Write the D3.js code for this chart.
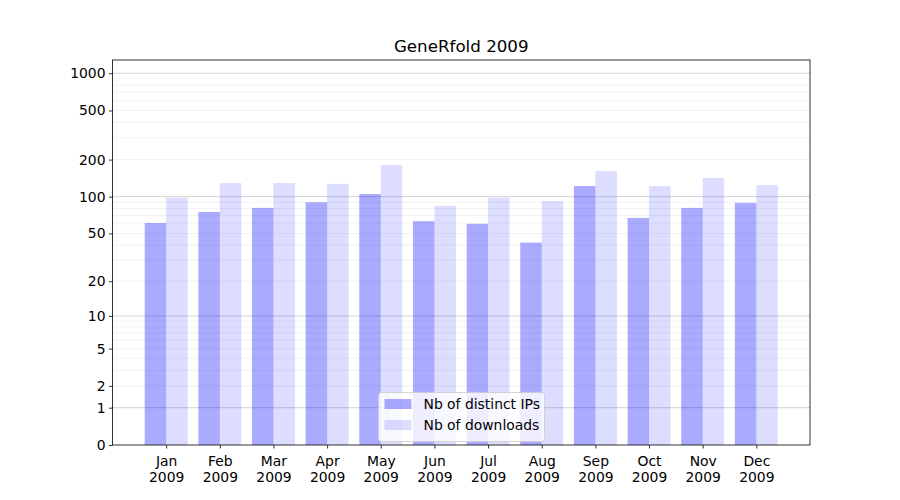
<!DOCTYPE html>
<html lang="en">
<head>
    <meta charset="UTF-8">
    <title>GeneRfold 2009</title>
    <script src="https://d3js.org/d3.v7.min.js"></script>
    <style>
        body { margin: 0; background: white; }
        text { font-family: "DejaVu Sans", sans-serif; fill: black; }
        .tick text { font-size: 13.9px; }
        .grid-major { stroke: #b0b0b0; stroke-width: 0.8px; stroke-opacity: 0.7; }
        .grid-minor { stroke: #b0b0b0; stroke-width: 0.8px; stroke-opacity: 0.2; }
    </style>
</head>
<body>
    <svg width="900" height="500"></svg>

    <script>
        // Data
        const months = ["Jan", "Feb", "Mar", "Apr", "May", "Jun", "Jul", "Aug", "Sep", "Oct", "Nov", "Dec"];
        const year = "2009";
        const distinctIPs = [61, 75, 81, 90, 105, 63, 60, 42, 122, 67, 81, 89];
        const downloads = [98, 129, 129, 127, 181, 84, 98, 92, 162, 122, 142, 124];
        const yTickValues = [0, 1, 2, 5, 10, 20, 50, 100, 200, 500, 1000];
        const majorGrid = [1, 10, 100, 1000];
        const minorGrid = [2, 3, 4, 5, 6, 7, 8, 9, 20, 30, 40, 50, 60, 70, 80, 90,
                           200, 300, 400, 500, 600, 700, 800, 900];

        const svg = d3.select("svg"),
            margin = { top: 60, right: 90, bottom: 55, left: 112.5 },
            width = +svg.attr("width") - margin.left - margin.right,
            height = +svg.attr("height") - margin.top - margin.bottom,
            g = svg.append("g").attr("transform", "translate(" + margin.left + "," + margin.top + ")");

        // x runs from -1 to 12 like the original, bars sit either side of each tick
        const x = d3.scaleLinear().domain([-1, 12]).range([0, width]);
        const y = d3.scaleSymlog().constant(1).domain([0, 1279]).range([height, 0]);
        const barW = 0.4;

        // grid
        g.selectAll(".grid-minor")
            .data(minorGrid)
            .enter().append("line")
            .attr("class", "grid-minor")
            .attr("x1", 0).attr("x2", width)
            .attr("y1", d => y(d)).attr("y2", d => y(d));

        g.selectAll(".grid-major")
            .data(majorGrid)
            .enter().append("line")
            .attr("class", "grid-major")
            .attr("x1", 0).attr("x2", width)
            .attr("y1", d => y(d)).attr("y2", d => y(d));

        // bars
        g.selectAll(".bar-ip")
            .data(distinctIPs)
            .enter().append("rect")
            .attr("class", "bar-ip")
            .attr("x", (d, i) => x(i - barW))
            .attr("width", x(barW) - x(0))
            .attr("y", d => y(d))
            .attr("height", d => y(0) - y(d))
            .attr("fill", "blue")
            .attr("fill-opacity", 0.333);

        g.selectAll(".bar-dl")
            .data(downloads)
            .enter().append("rect")
            .attr("class", "bar-dl")
            .attr("x", (d, i) => x(i))
            .attr("width", x(barW) - x(0))
            .attr("y", d => y(d))
            .attr("height", d => y(0) - y(d))
            .attr("fill", "blue")
            .attr("fill-opacity", 0.133);

        // axes
        const xAxis = g.append("g")
            .attr("transform", "translate(0," + height + ")")
            .call(d3.axisBottom(x)
                .tickValues(d3.range(months.length))
                .tickSize(3.5).tickPadding(3.5)
                .tickFormat(""));
        xAxis.selectAll(".tick").each(function(d) {
            const t = d3.select(this).append("text")
                .attr("y", 21)
                .attr("text-anchor", "middle")
                .style("font-size", "13.9px");
            t.append("tspan").attr("x", 0).text(months[d]);
            t.append("tspan").attr("x", 0).attr("dy", 16).text(year);
        });
        xAxis.select(".domain").remove();

        const yAxis = g.append("g")
            .call(d3.axisLeft(y)
                .tickValues(yTickValues)
                .tickSize(3.5).tickPadding(3.5)
                .tickFormat(d3.format("d")));
        yAxis.select(".domain").remove();
        svg.selectAll(".tick line").attr("stroke", "black").attr("stroke-width", 0.8);

        // frame
        g.append("rect")
            .attr("width", width).attr("height", height)
            .attr("fill", "none").attr("stroke", "black").attr("stroke-width", 0.8);

        // title
        svg.append("text")
            .attr("x", margin.left + width / 2)
            .attr("y", 52)
            .attr("text-anchor", "middle")
            .style("font-size", "16.7px")
            .text("GeneRfold 2009");

        // legend, lower centre
        const legend = svg.append("g").attr("transform", "translate(378.5,392.5)");
        legend.append("rect")
            .attr("width", 166).attr("height", 49).attr("rx", 3)
            .attr("fill", "white").attr("fill-opacity", 0.8)
            .attr("stroke", "#cccccc").attr("stroke-width", 0.8);
        const items = [
            { label: "Nb of distinct IPs", opacity: 0.333 },
            { label: "Nb of downloads", opacity: 0.133 }
        ];
        items.forEach((it, i) => {
            legend.append("rect")
                .attr("x", 6).attr("y", 6.5 + i * 21)
                .attr("width", 27).attr("height", 10)
                .attr("fill", "blue").attr("fill-opacity", it.opacity);
            legend.append("text")
                .attr("x", 45).attr("y", 16.5 + i * 21)
                .style("font-size", "13.9px")
                .text(it.label);
        });
    </script>
</body>
</html>
